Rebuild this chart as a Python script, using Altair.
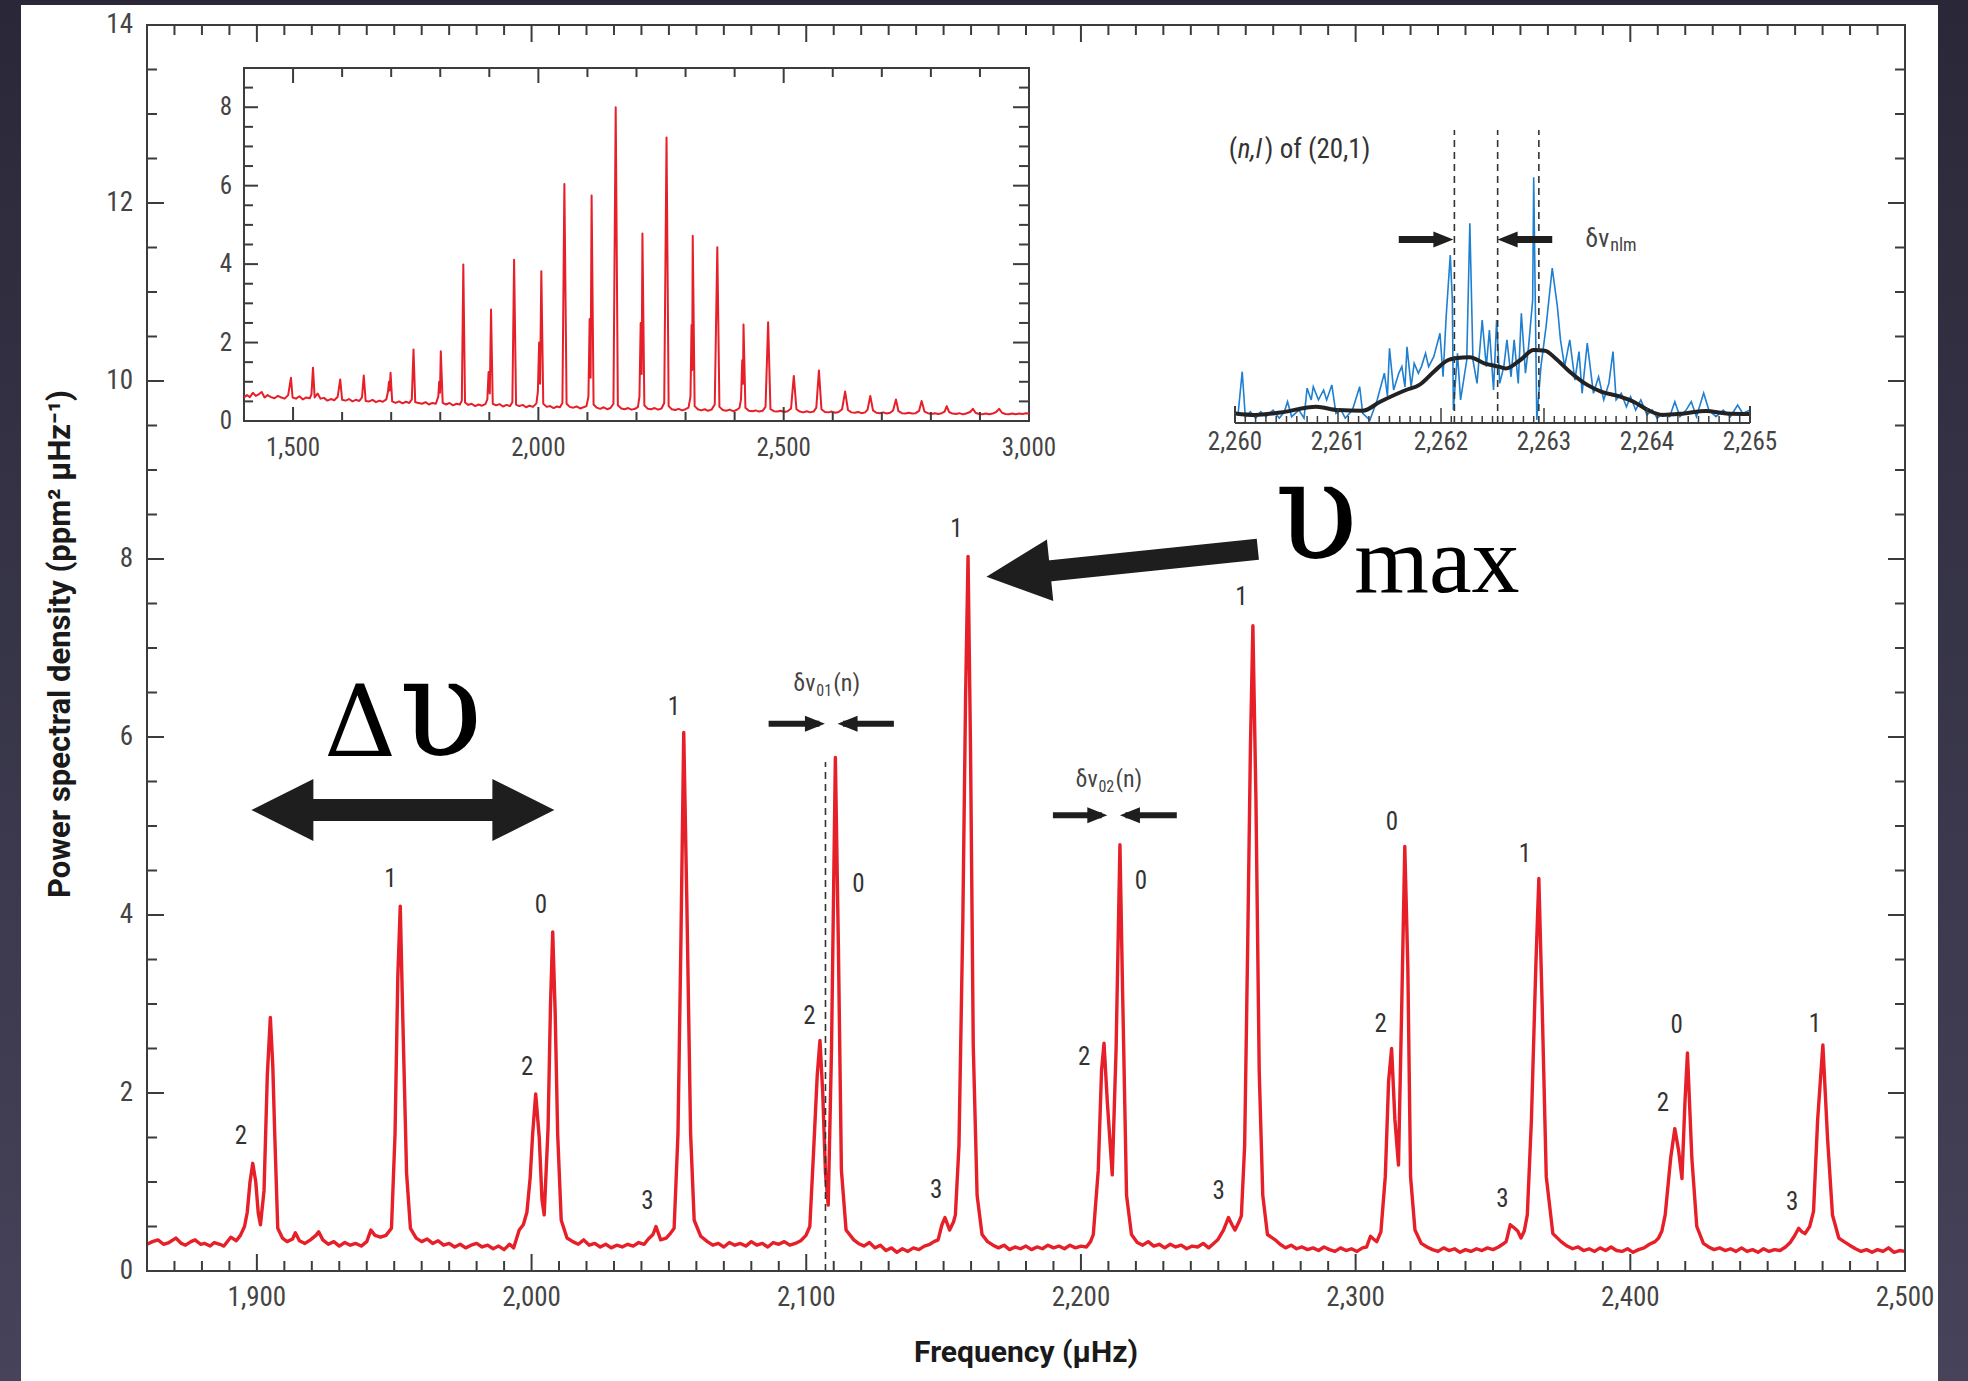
import altair as alt
import pandas as pd

# ---------------------------------------------------------------- layout
W, H = 1758, 1246            # main plot area in pixels
PAD = {"left": 147, "top": 25, "right": 63, "bottom": 110}

RED = "#e61f28"
BLUE = "#1f7fd0"
INK = "#1e1e1e"
TICK = "#3c3c3c"
LABEL = "#444444"
NARROW = "Liberation Sans Narrow, Roboto Condensed, Liberation Sans, sans-serif"
TITLE_FONT = "Roboto, Liberation Sans, sans-serif"
SERIF = "Liberation Serif, DejaVu Serif, serif"
WIDE_SERIF = "DejaVu Serif, Liberation Serif, serif"

# ---------------------------------------------------------------- data
# Main power spectrum: (frequency μHz, PSD ppm² μHz⁻¹)
MAIN_SPECTRUM = [
    (1860.0, 0.30), (1862.0, 0.33), (1864.0, 0.35), (1866.0, 0.30), (1868.0, 0.32),
    (1870.5, 0.37), (1872.5, 0.31), (1874.0, 0.29), (1876.0, 0.33), (1877.5, 0.35),
    (1879.5, 0.30), (1881.0, 0.31), (1883.0, 0.28), (1884.5, 0.32), (1886.5, 0.30),
    (1888.0, 0.28), (1890.5, 0.38), (1892.5, 0.34), (1894.0, 0.40), (1895.5, 0.50),
    (1896.5, 0.66), (1897.5, 1.00), (1898.5, 1.21), (1899.6, 1.00), (1900.5, 0.65),
    (1901.3, 0.52), (1902.6, 0.90), (1903.8, 2.20), (1904.9, 2.85), (1905.8, 2.30),
    (1906.5, 1.54), (1907.6, 0.48), (1909.3, 0.37),
    (1911.0, 0.33), (1913.0, 0.36), (1914.0, 0.43), (1915.5, 0.34), (1917.5, 0.31),
    (1919.5, 0.35), (1921.5, 0.40), (1922.5, 0.44), (1924.0, 0.35), (1926.0, 0.30),
    (1928.0, 0.33), (1930.0, 0.28), (1932.0, 0.32), (1934.0, 0.29), (1936.0, 0.31),
    (1938.0, 0.28), (1940.0, 0.33), (1941.5, 0.46), (1943.0, 0.40), (1945.0, 0.38),
    (1947.0, 0.40),
    (1949.0, 0.48), (1950.3, 1.54), (1951.3, 3.30), (1952.2, 4.10), (1953.1, 2.87),
    (1954.5, 1.10), (1955.9, 0.48), (1958.0, 0.37),
    (1960.0, 0.33), (1962.0, 0.36), (1964.0, 0.31), (1966.0, 0.34), (1968.0, 0.29),
    (1970.0, 0.31), (1972.0, 0.27), (1974.0, 0.30), (1976.0, 0.26), (1978.0, 0.29),
    (1980.0, 0.31), (1982.0, 0.27), (1984.0, 0.29), (1986.0, 0.25), (1988.0, 0.28),
    (1990.0, 0.24), (1992.0, 0.30), (1993.5, 0.26),
    (1995.5, 0.46), (1997.0, 0.52), (1998.3, 0.66), (1999.5, 1.05), (2000.4, 1.54),
    (2001.5, 1.99), (2002.8, 1.50), (2003.8, 0.80), (2004.6, 0.63), (2006.0, 1.60),
    (2006.9, 3.00), (2007.7, 3.81), (2008.6, 2.90), (2009.5, 1.54), (2010.8, 0.57),
    (2012.9, 0.37),
    (2015.0, 0.33), (2017.0, 0.30), (2019.0, 0.35), (2021.0, 0.29), (2023.0, 0.31),
    (2025.0, 0.27), (2027.0, 0.30), (2029.0, 0.26), (2031.0, 0.29), (2033.0, 0.27),
    (2035.0, 0.30), (2037.0, 0.28), (2039.0, 0.32), (2041.0, 0.30), (2042.5, 0.36),
    (2044.2, 0.41), (2045.3, 0.50), (2047.0, 0.35), (2049.0, 0.37), (2050.5, 0.42),
    (2051.9, 0.48), (2053.3, 1.54), (2054.4, 3.76), (2055.4, 6.05), (2056.5, 4.20),
    (2057.9, 1.54), (2059.2, 0.57), (2061.6, 0.39),
    (2064.0, 0.33), (2066.0, 0.29), (2068.0, 0.31), (2070.0, 0.27), (2072.0, 0.32),
    (2074.0, 0.29), (2076.0, 0.31), (2078.0, 0.28), (2080.0, 0.33), (2082.0, 0.29),
    (2084.0, 0.31), (2086.0, 0.27), (2088.0, 0.32), (2090.0, 0.30), (2092.0, 0.33),
    (2094.0, 0.29), (2096.0, 0.31), (2098.0, 0.34), (2099.9, 0.40),
    (2101.3, 0.50), (2102.6, 1.30), (2104.0, 2.20), (2105.0, 2.59), (2106.0, 2.00),
    (2107.0, 1.10), (2108.0, 0.74), (2109.2, 2.50), (2110.6, 5.77), (2111.7, 3.65),
    (2112.8, 1.13), (2114.5, 0.46), (2117.3, 0.35),
    (2119.0, 0.31), (2121.0, 0.28), (2123.0, 0.32), (2125.0, 0.26), (2127.0, 0.29),
    (2129.0, 0.23), (2131.0, 0.26), (2133.0, 0.21), (2135.0, 0.25), (2137.0, 0.22),
    (2139.0, 0.26), (2141.0, 0.24), (2143.0, 0.28), (2145.0, 0.30), (2146.5, 0.33),
    (2148.0, 0.35), (2149.4, 0.52), (2150.5, 0.60), (2152.2, 0.46), (2153.6, 0.55),
    (2154.3, 0.63), (2155.6, 1.41), (2157.0, 3.93), (2158.0, 6.44), (2158.9, 8.03),
    (2159.8, 5.88), (2160.8, 2.53), (2162.2, 0.85), (2164.0, 0.41),
    (2166.0, 0.33), (2168.0, 0.29), (2170.0, 0.26), (2172.0, 0.29), (2174.0, 0.24),
    (2176.0, 0.27), (2178.0, 0.25), (2180.0, 0.28), (2182.0, 0.24), (2184.0, 0.27),
    (2186.0, 0.25), (2188.0, 0.29), (2190.0, 0.26), (2192.0, 0.28), (2194.0, 0.25),
    (2196.0, 0.29), (2198.0, 0.26), (2200.0, 0.28), (2202.0, 0.27), (2203.5, 0.33),
    (2204.5, 0.41), (2206.3, 1.13), (2207.5, 2.25), (2208.4, 2.56), (2209.6, 1.90),
    (2211.4, 1.08), (2212.8, 2.50), (2214.2, 4.79), (2215.2, 3.09), (2216.6, 0.85),
    (2218.4, 0.41), (2220.5, 0.32),
    (2222.5, 0.29), (2224.5, 0.33), (2226.5, 0.28), (2228.5, 0.30), (2230.5, 0.26),
    (2232.5, 0.30), (2234.5, 0.27), (2236.5, 0.29), (2238.5, 0.25), (2240.5, 0.28),
    (2242.5, 0.27), (2244.5, 0.31), (2246.5, 0.26), (2248.0, 0.30),
    (2249.8, 0.35), (2251.9, 0.46), (2253.7, 0.60), (2255.0, 0.52), (2256.1, 0.46),
    (2257.5, 0.55),
    (2258.4, 0.62), (2259.6, 1.41), (2260.7, 3.65), (2261.7, 5.88), (2262.6, 7.25),
    (2263.7, 5.32), (2264.9, 2.25), (2266.2, 0.85), (2267.9, 0.41), (2270.7, 0.35),
    (2272.5, 0.30), (2274.5, 0.26), (2276.5, 0.29), (2278.5, 0.25), (2280.5, 0.27),
    (2282.5, 0.24), (2284.5, 0.26), (2286.5, 0.23), (2288.5, 0.27), (2290.5, 0.24),
    (2292.5, 0.22), (2294.5, 0.26), (2296.5, 0.23), (2298.5, 0.25), (2300.5, 0.22),
    (2302.5, 0.26), (2304.0, 0.27),
    (2305.4, 0.39), (2306.5, 0.36), (2307.7, 0.33),
    (2309.2, 0.44), (2310.8, 1.06), (2312.0, 2.13), (2313.1, 2.50), (2314.3, 1.70),
    (2315.6, 1.19), (2316.8, 3.00), (2317.9, 4.77), (2319.0, 3.42), (2320.0, 1.06),
    (2321.6, 0.46), (2323.9, 0.31),
    (2326.0, 0.27), (2328.0, 0.24), (2330.0, 0.22), (2332.0, 0.26), (2334.0, 0.23),
    (2336.0, 0.25), (2338.0, 0.21), (2340.0, 0.24), (2342.0, 0.22), (2344.0, 0.25),
    (2346.0, 0.23), (2348.0, 0.26), (2350.0, 0.24), (2352.0, 0.27), (2353.5, 0.30),
    (2354.8, 0.33), (2356.3, 0.52), (2357.9, 0.48), (2359.0, 0.45), (2360.2, 0.37),
    (2361.4, 0.45),
    (2362.5, 0.63), (2364.0, 1.70), (2365.6, 3.42), (2366.7, 4.41), (2367.9, 2.99),
    (2369.4, 1.06), (2371.8, 0.42), (2374.8, 0.33),
    (2377.0, 0.28), (2379.0, 0.25), (2381.0, 0.27), (2383.0, 0.23), (2385.0, 0.25),
    (2387.0, 0.22), (2389.0, 0.26), (2391.0, 0.23), (2393.0, 0.27), (2395.0, 0.23),
    (2397.0, 0.22), (2399.0, 0.25), (2401.0, 0.21), (2403.0, 0.24), (2405.0, 0.26),
    (2407.0, 0.30), (2409.0, 0.33),
    (2410.3, 0.37), (2411.5, 0.45), (2412.7, 0.63), (2414.7, 1.27), (2416.2, 1.60),
    (2417.6, 1.35), (2418.8, 1.04), (2419.9, 1.90), (2420.8, 2.45), (2422.4, 1.27),
    (2424.2, 0.50), (2426.6, 0.31),
    (2428.5, 0.27), (2430.5, 0.24), (2432.5, 0.26), (2434.5, 0.23), (2436.5, 0.25),
    (2438.5, 0.22), (2440.5, 0.26), (2442.5, 0.22), (2444.5, 0.24), (2446.5, 0.21),
    (2448.5, 0.25), (2450.5, 0.22), (2452.5, 0.24), (2454.5, 0.23), (2456.5, 0.27),
    (2458.2, 0.32),
    (2459.7, 0.39), (2461.3, 0.48), (2462.5, 0.44), (2463.6, 0.42), (2465.3, 0.50),
    (2466.7, 0.67), (2468.2, 1.70), (2470.1, 2.54), (2471.8, 1.49), (2473.6, 0.63),
    (2475.9, 0.37), (2477.8, 0.33), (2479.8, 0.29),
    (2482.0, 0.25), (2484.0, 0.22), (2486.0, 0.24), (2488.0, 0.21), (2490.0, 0.24),
    (2492.0, 0.22), (2494.0, 0.26), (2496.0, 0.21), (2498.0, 0.23), (2500.0, 0.22),
]

# Full-range spectrum shown in the upper-left inset
INSET_SPECTRUM = [
    (1400, 0.60), (1406, 0.66), (1412, 0.61), (1418, 0.72), (1424, 0.64), (1430, 0.68),
    (1436, 0.74), (1442, 0.60), (1448, 0.66), (1455, 0.61), (1462, 0.58), (1469, 0.64),
    (1476, 0.60), (1483, 0.57), (1490, 0.66), (1495.7, 1.10), (1499, 0.60), (1506, 0.57),
    (1513, 0.63), (1520, 0.55), (1527, 0.60), (1534, 0.58), (1537.5, 0.68), (1540.6, 1.36),
    (1544, 0.60), (1550, 0.70), (1556, 0.57), (1563, 0.59), (1570, 0.52), (1577, 0.56),
    (1584, 0.53), (1591, 0.62), (1596.1, 1.06), (1600, 0.54), (1607, 0.52), (1614, 0.56),
    (1621, 0.50), (1628, 0.54), (1635, 0.51), (1640.5, 0.60), (1644.1, 1.16), (1648, 0.51),
    (1655, 0.50), (1662, 0.54), (1669, 0.48), (1676, 0.52), (1683, 0.49), (1690, 0.55),
    (1693.5, 0.75), (1695.5, 1.00), (1697, 0.78), (1698.7, 1.23), (1702, 0.50), (1709, 0.46),
    (1716, 0.50), (1723, 0.45), (1730, 0.49), (1737, 0.46), (1742, 0.55), (1745.5, 1.82),
    (1749, 0.48), (1756, 0.46), (1763, 0.44), (1770, 0.48), (1777, 0.42), (1784, 0.46),
    (1791, 0.44), (1796, 0.62), (1797.8, 1.00), (1799.5, 0.72), (1801.1, 1.78), (1805, 0.46),
    (1812, 0.42), (1819, 0.46), (1826, 0.40), (1833, 0.44), (1840, 0.42), (1844, 0.52),
    (1847, 3.99), (1850.5, 0.47), (1857, 0.41), (1864, 0.44), (1871, 0.38), (1878, 0.42),
    (1885, 0.39), (1892, 0.43), (1896, 0.55), (1898.5, 1.25), (1901, 0.70), (1903.5, 2.84),
    (1907, 0.44), (1914, 0.40), (1921, 0.43), (1928, 0.37), (1935, 0.41), (1942, 0.38),
    (1947, 0.48), (1950.5, 4.11), (1954.5, 0.42), (1961, 0.38), (1968, 0.41), (1975, 0.35),
    (1982, 0.39), (1989, 0.36), (1996, 0.45), (1999, 0.75), (2001.5, 2.00), (2003.5, 0.95),
    (2006, 3.82), (2010, 0.44), (2017, 0.36), (2024, 0.38), (2031, 0.33), (2038, 0.37),
    (2044, 0.35), (2049, 0.46), (2053, 6.04), (2057.5, 0.44), (2064, 0.36), (2071, 0.34),
    (2078, 0.37), (2085, 0.32), (2092, 0.35), (2098, 0.38), (2102, 0.62), (2104.5, 2.60),
    (2106.5, 1.10), (2108.5, 5.75), (2112.5, 0.42), (2119, 0.34), (2126, 0.31), (2133, 0.35),
    (2140, 0.30), (2147, 0.33), (2153, 0.44), (2157.6, 8.00), (2162, 0.40), (2169, 0.32),
    (2176, 0.30), (2183, 0.33), (2190, 0.29), (2197, 0.31), (2203, 0.36), (2206, 0.62),
    (2208.5, 2.50), (2210.5, 1.20), (2212.1, 4.78), (2216, 0.40), (2223, 0.31), (2230, 0.30),
    (2237, 0.33), (2244, 0.29), (2251, 0.32), (2256.5, 0.46), (2261.2, 7.23), (2265.5, 0.38),
    (2272, 0.30), (2279, 0.28), (2286, 0.31), (2293, 0.27), (2300, 0.30), (2306, 0.34),
    (2310, 0.62), (2312.2, 2.45), (2313.5, 1.30), (2314.6, 4.72), (2318.5, 0.38), (2325, 0.30),
    (2332, 0.27), (2339, 0.30), (2346, 0.26), (2353, 0.29), (2359.5, 0.42), (2364.7, 4.43),
    (2369, 0.36), (2376, 0.28), (2383, 0.26), (2390, 0.29), (2397, 0.25), (2404, 0.28),
    (2410, 0.34), (2413, 0.55), (2415.5, 1.55), (2417, 0.95), (2418.1, 2.46), (2422, 0.34),
    (2429, 0.26), (2436, 0.25), (2443, 0.27), (2450, 0.24), (2457, 0.26), (2463, 0.36),
    (2468.3, 2.52), (2473, 0.30), (2480, 0.25), (2487, 0.24), (2494, 0.26), (2501, 0.23),
    (2508, 0.25), (2515, 0.32), (2520.6, 1.15), (2526, 0.30), (2533, 0.24), (2540, 0.22),
    (2547, 0.25), (2554, 0.22), (2561, 0.24), (2566.5, 0.34), (2571.8, 1.29), (2577, 0.30),
    (2584, 0.23), (2591, 0.22), (2598, 0.24), (2605, 0.21), (2612, 0.23), (2619, 0.30),
    (2625.2, 0.75), (2631, 0.28), (2638, 0.22), (2645, 0.21), (2652, 0.23), (2659, 0.20),
    (2666, 0.22), (2671, 0.29), (2676.5, 0.64), (2682, 0.27), (2689, 0.21), (2696, 0.20),
    (2703, 0.22), (2710, 0.19), (2717, 0.21), (2723, 0.27), (2728.8, 0.55), (2734, 0.25),
    (2741, 0.20), (2748, 0.19), (2755, 0.21), (2762, 0.19), (2769, 0.20), (2776, 0.26),
    (2781.1, 0.51), (2787, 0.24), (2794, 0.20), (2801, 0.18), (2808, 0.20), (2815, 0.18),
    (2822, 0.20), (2828, 0.24), (2832.3, 0.38), (2837, 0.23), (2844, 0.19), (2851, 0.18),
    (2858, 0.20), (2865, 0.17), (2872, 0.19), (2880, 0.23), (2885.7, 0.31), (2891, 0.21),
    (2898, 0.18), (2905, 0.17), (2912, 0.19), (2919, 0.17), (2926, 0.19), (2933, 0.23),
    (2939.1, 0.31), (2945, 0.21), (2952, 0.18), (2959, 0.17), (2966, 0.19), (2973, 0.17),
    (2980, 0.19), (2987, 0.18), (2994, 0.20), (3000, 0.19),
]

# Rotationally split (n,l) = (20,1) mode: raw power and smoothed power (relative units)
SPLIT_RAW = [
    (2260.00, 0.38), (2260.03, 0.30), (2260.07, 1.71), (2260.10, 0.21), (2260.15, 0.38),
    (2260.20, 0.16), (2260.25, 0.38), (2260.30, 0.21), (2260.37, 0.43), (2260.43, 0.16),
    (2260.48, 0.38), (2260.51, 0.71), (2260.55, 0.21), (2260.62, 0.43), (2260.67, 0.16),
    (2260.70, 1.16), (2260.74, 0.77), (2260.76, 1.21), (2260.81, 0.77), (2260.86, 1.10),
    (2260.89, 0.77), (2260.94, 1.27), (2260.98, 0.32), (2261.03, 0.43), (2261.07, 0.16),
    (2261.14, 0.43), (2261.21, 1.21), (2261.24, 0.32), (2261.31, 0.10), (2261.38, 0.77),
    (2261.45, 1.66), (2261.48, 0.90), (2261.50, 2.49), (2261.54, 1.10), (2261.59, 1.66),
    (2261.62, 1.88), (2261.65, 1.20), (2261.67, 2.54), (2261.71, 1.21), (2261.74, 1.99),
    (2261.78, 1.66), (2261.81, 1.88), (2261.85, 2.32), (2261.88, 1.88), (2261.93, 2.21),
    (2261.99, 2.99), (2262.02, 1.54), (2262.05, 3.54), (2262.09, 5.60), (2262.11, 4.10),
    (2262.12, 0.43), (2262.16, 2.32), (2262.19, 0.77), (2262.25, 2.10), (2262.28, 6.66),
    (2262.31, 2.10), (2262.35, 1.32), (2262.40, 3.43), (2262.44, 1.88), (2262.47, 3.10),
    (2262.51, 1.10), (2262.54, 3.43), (2262.57, 1.32), (2262.61, 1.88), (2262.64, 2.77),
    (2262.68, 1.54), (2262.71, 2.77), (2262.75, 1.32), (2262.78, 3.66), (2262.82, 1.66),
    (2262.85, 2.54), (2262.89, 4.10), (2262.90, 8.19), (2262.93, 0.10), (2262.97, 1.88),
    (2263.02, 3.21), (2263.08, 5.16), (2263.13, 3.88), (2263.16, 2.77), (2263.20, 1.88),
    (2263.25, 2.77), (2263.30, 1.43), (2263.34, 2.38), (2263.37, 0.99), (2263.42, 2.66),
    (2263.48, 0.99), (2263.53, 1.54), (2263.58, 0.77), (2263.63, 1.32), (2263.67, 2.38),
    (2263.70, 0.77), (2263.75, 0.99), (2263.80, 0.54), (2263.84, 0.88), (2263.89, 0.43),
    (2263.94, 0.77), (2264.00, 0.27), (2264.05, 0.43), (2264.10, 0.16), (2264.15, 0.32),
    (2264.22, 0.21), (2264.27, 0.71), (2264.32, 0.21), (2264.38, 0.43), (2264.43, 0.71),
    (2264.48, 0.21), (2264.55, 1.00), (2264.60, 0.43), (2264.67, 0.21), (2264.74, 0.43),
    (2264.81, 0.21), (2264.88, 0.60), (2264.93, 0.32), (2265.00, 0.43),
]
SPLIT_SMOOTH = [
    (2260.00, 0.32), (2260.20, 0.27), (2260.44, 0.35), (2260.79, 0.54), (2261.00, 0.43),
    (2261.24, 0.41), (2261.41, 0.71), (2261.66, 1.10), (2261.79, 1.27), (2261.93, 1.71),
    (2262.07, 2.10), (2262.14, 2.16), (2262.28, 2.19), (2262.42, 1.99), (2262.56, 1.88),
    (2262.63, 1.82), (2262.77, 2.10), (2262.90, 2.43), (2263.01, 2.41), (2263.11, 2.16),
    (2263.25, 1.71), (2263.42, 1.27), (2263.56, 1.04), (2263.74, 0.88), (2263.87, 0.71),
    (2264.01, 0.43), (2264.15, 0.27), (2264.36, 0.32), (2264.57, 0.40), (2264.77, 0.32),
    (2265.00, 0.30),
]
SPLIT_COMPONENTS = [2262.13, 2262.55, 2262.95]

# Angular degree labels of the main spectrum: (label, frequency, PSD)
MODE_LABELS = [
    ("2", 1894.2, 1.52), ("1", 1948.6, 4.40), ("2", 1998.4, 2.29), ("0", 2003.4, 4.11),
    ("3", 2042.2, 0.79), ("1", 2051.8, 6.34), ("2", 2101.2, 2.87), ("0", 2119.0, 4.35),
    ("3", 2147.3, 0.91), ("1", 2154.7, 8.34), ("2", 2201.2, 2.41), ("0", 2221.8, 4.38),
    ("3", 2250.1, 0.90), ("1", 2258.4, 7.57), ("2", 2309.1, 2.77), ("0", 2313.2, 5.04),
    ("3", 2353.4, 0.81), ("1", 2361.6, 4.68), ("2", 2411.9, 1.89), ("0", 2416.9, 2.76),
    ("3", 2458.9, 0.77), ("1", 2467.2, 2.77),
]
SMALL_SEPARATION_01 = 2107.0   # midpoint of neighbouring l=1 modes

# Tick positions and labels
MAIN_X_MAJOR = [1900, 2000, 2100, 2200, 2300, 2400, 2500]
MAIN_X_MINOR = [v for v in range(1870, 2500, 10) if v % 100]
MAIN_X_LABELS = [(v, f"{v:,}") for v in MAIN_X_MAJOR]
MAIN_Y_MAJOR = [0, 2, 4, 6, 8, 10, 12, 14]
MAIN_Y_MINOR = [i * 0.5 for i in range(1, 28) if i % 4]
INSET_X_MAJOR = [1500, 2000, 2500]
INSET_X_MINOR = [v for v in range(1500, 3000, 100) if v % 500]
INSET_X_LABELS = [(1500, "1,500"), (2000, "2,000"), (2500, "2,500"), (3000, "3,000")]
INSET_Y_MAJOR = [0, 2, 4, 6, 8]
INSET_Y_MINOR = [i * 0.5 for i in range(1, 18) if i % 4]
SPLIT_X_MAJOR = [2261, 2262, 2263, 2264]
SPLIT_X_MINOR = [round(2260 + i * 0.1, 1) for i in range(1, 50) if i % 10]
SPLIT_X_CAPS = [2260, 2265]
SPLIT_X_LABELS = [(2260, "2,260"), (2261, "2,261"), (2262, "2,262"),
                  (2263, "2,263"), (2264, "2,264"), (2265, "2,265")]

X_TITLE = "Frequency (μHz)"
Y_TITLE = "Power spectral density (ppm² μHz⁻¹)"

# ---------------------------------------------------------------- scales
main_x = alt.Scale(domain=[1860, 2500], nice=False, zero=False)
main_y = alt.Scale(domain=[0, 14], nice=False, zero=False)
in1_x = alt.Scale(domain=[1400, 3000], range=[97, 882], nice=False, zero=False)
in1_y = alt.Scale(domain=[0, 9], range=[396, 43], nice=False, zero=False)
in2_x = alt.Scale(domain=[2260, 2265], range=[1088, 1603], nice=False, zero=False)
in2_y = alt.Scale(domain=[0, 10], range=[398, 98], nice=False, zero=False)


def spectrum_df(pairs):
    return pd.DataFrame(pairs, columns=["f", "p"])


def xticks(values, xs, ys, at, length, color=TICK, width=2):
    """Vertical tick marks along a horizontal edge (negative length points up)."""
    return alt.Chart(pd.DataFrame({"v": values})).mark_rule(
        color=color, strokeWidth=width, y2Offset=length
    ).encode(
        x=alt.X("v:Q", scale=xs, axis=None),
        y=alt.YDatum(at, scale=ys, axis=None),
        y2=alt.Y2Datum(at),
    )


def yticks(values, xs, ys, at, length, color=TICK, width=2):
    """Horizontal tick marks along a vertical edge (positive length points right)."""
    return alt.Chart(pd.DataFrame({"v": values})).mark_rule(
        color=color, strokeWidth=width, x2Offset=length
    ).encode(
        y=alt.Y("v:Q", scale=ys, axis=None),
        x=alt.XDatum(at, scale=xs, axis=None),
        x2=alt.X2Datum(at),
    )


def xlabels(pairs, xs, ys, at, dy, size=25):
    return alt.Chart(pd.DataFrame(pairs, columns=["v", "t"])).mark_text(
        font=NARROW, fontSize=size, color=LABEL, dy=dy
    ).encode(
        x=alt.X("v:Q", scale=xs, axis=None), y=alt.YDatum(at, scale=ys, axis=None),
        text="t:N",
    )


def ylabels(values, xs, ys, at, dx, size=25):
    return alt.Chart(pd.DataFrame({"v": values})).mark_text(
        font=NARROW, fontSize=size, color=LABEL, align="right", dx=dx
    ).encode(
        y=alt.Y("v:Q", scale=ys, axis=None), x=alt.XDatum(at, scale=xs, axis=None),
        text=alt.Text("v:Q", format="d"),
    )


def texts(rows, xs, ys, **mark):
    df = pd.DataFrame(rows, columns=["t", "x", "y"])
    return alt.Chart(df).mark_text(**mark).encode(
        x=alt.X("x:Q", scale=xs, axis=None),
        y=alt.Y("y:Q", scale=ys, axis=None),
        text=alt.Text("t:N"),
    )


def subscripted(base, sub, tail, x, y, xs, ys, size, sub_dx, tail_dx, color):
    """Symbol with a lowered, smaller subscript and an optional trailing part."""
    layers = [
        texts([(base, x, y)], xs, ys, font=NARROW, fontSize=size, color=color, align="left"),
        texts([(sub, x, y)], xs, ys, font=NARROW, fontSize=round(size * 0.68),
              color=color, align="left", dx=sub_dx, dy=size * 0.3),
    ]
    if tail:
        layers.append(texts([(tail, x, y)], xs, ys, font=NARROW, fontSize=size,
                            color=color, align="left", dx=tail_dx))
    return layers


def arrow(tail, shaft_end, tip, angle, xs, ys, shaft_w, head_len, head_half):
    shaft = alt.Chart(pd.DataFrame([{
        "x": tail[0], "y": tail[1], "x2": shaft_end[0], "y2": shaft_end[1]}])
    ).mark_rule(color=INK, strokeWidth=shaft_w, strokeCap="butt").encode(
        x=alt.X("x:Q", scale=xs, axis=None), y=alt.Y("y:Q", scale=ys, axis=None),
        x2="x2:Q", y2="y2:Q",
    )
    head_path = f"M0,0L{-head_len},{-head_half}L{-head_len},{head_half}Z"
    head = alt.Chart(pd.DataFrame([{"x": tip[0], "y": tip[1]}])).mark_point(
        shape=head_path, size=4, filled=True, color=INK, opacity=1, angle=angle
    ).encode(
        x=alt.X("x:Q", scale=xs, axis=None), y=alt.Y("y:Q", scale=ys, axis=None),
    )
    return [shaft, head]


one_row = pd.DataFrame({"k": [0]})

# ---------------------------------------------------------------- backdrop
backdrop = alt.Chart(one_row).mark_rect(
    color=alt.Gradient(
        gradient="linear",
        stops=[alt.GradientStop(color="#2a2838", offset=0),
               alt.GradientStop(color="#46435a", offset=1)],
        x1=0, x2=0, y1=0, y2=1,
    )
).encode(x=alt.value(-147), x2=alt.value(1821), y=alt.value(-25), y2=alt.value(1356))

panel = alt.Chart(one_row).mark_rect(color="white").encode(
    x=alt.value(-126), x2=alt.value(1791), y=alt.value(-20), y2=alt.value(1356)
)

# ---------------------------------------------------------------- main chart
main_line = alt.Chart(spectrum_df(MAIN_SPECTRUM)).mark_line(
    color=RED, strokeWidth=3.4, strokeJoin="round"
).encode(
    x=alt.X("f:Q", scale=main_x, axis=None),
    y=alt.Y("p:Q", scale=main_y, axis=None),
)

main_dashed = alt.Chart(pd.DataFrame([{"x": SMALL_SEPARATION_01, "y": 0, "y2": 5.72}])).mark_rule(
    color="#333333", strokeWidth=1.6, strokeDash=[7, 5]
).encode(
    x=alt.X("x:Q", scale=main_x, axis=None),
    y=alt.Y("y:Q", scale=main_y, axis=None), y2="y2:Q",
)

mode_labels = texts(MODE_LABELS, main_x, main_y, font=NARROW, fontSize=25, color="#333333")

small_sep_labels = (
    subscripted("δν", "01", "(n)", 2095.3, 6.60, main_x, main_y, 24, 23, 40, "#444444")
    + subscripted("δν", "02", "(n)", 2198.0, 5.52, main_x, main_y, 24, 23, 40, "#444444")
)

big_text = [
    texts([("Δ", 1924.4, 5.79)], main_x, main_y, font=WIDE_SERIF, fontSize=100,
          color="black", baseline="alphabetic", align="left"),
    texts([("υ", 1951.7, 5.79)], main_x, main_y, font=WIDE_SERIF, fontSize=138,
          color="black", baseline="alphabetic", align="left"),
    texts([("υ", 2270.5, 8.00)], main_x, main_y, font=WIDE_SERIF, fontSize=138,
          color="black", baseline="alphabetic", align="left"),
    texts([("max", 2299.5, 7.63)], main_x, main_y, font=SERIF, fontSize=96,
          color="black", baseline="alphabetic", align="left"),
]

annotation_arrows = (
    arrow((1919.1, 5.18), (1919.1, 5.18), (1898.0, 5.18), 180, main_x, main_y, 22, 62, 31)
    + arrow((1919.1, 5.18), (1987.2, 5.18), (2008.3, 5.18), 0, main_x, main_y, 22, 62, 31)
    + arrow((2264.4, 8.11), (2186.5, 7.86), (2165.6, 7.80), 174.1, main_x, main_y, 21, 64, 31)
    + arrow((2086.3, 6.15), (2104.8, 6.15), (2106.8, 6.15), 0, main_x, main_y, 6, 20, 8)
    + arrow((2131.9, 6.15), (2113.4, 6.15), (2111.4, 6.15), 180, main_x, main_y, 6, 20, 8)
    + arrow((2189.8, 5.12), (2207.6, 5.12), (2209.6, 5.12), 0, main_x, main_y, 6, 20, 8)
    + arrow((2234.9, 5.12), (2216.2, 5.12), (2214.2, 5.12), 180, main_x, main_y, 6, 20, 8)
)

main_frame = alt.Chart(one_row).mark_rect(filled=False, color=TICK, strokeWidth=2).encode(
    x=alt.XDatum(1860, scale=main_x, axis=None), x2=alt.X2Datum(2500),
    y=alt.YDatum(0, scale=main_y, axis=None), y2=alt.Y2Datum(14),
)

main_ticks = [
    xticks(MAIN_X_MAJOR, main_x, main_y, 0, -17), xticks(MAIN_X_MINOR, main_x, main_y, 0, -10),
    xticks(MAIN_X_MAJOR, main_x, main_y, 14, 17), xticks(MAIN_X_MINOR, main_x, main_y, 14, 10),
    yticks(MAIN_Y_MAJOR, main_x, main_y, 1860, 17), yticks(MAIN_Y_MINOR, main_x, main_y, 1860, 10),
    yticks(MAIN_Y_MAJOR, main_x, main_y, 2500, -17), yticks(MAIN_Y_MINOR, main_x, main_y, 2500, -10),
]

main_axis_text = [
    xlabels(MAIN_X_LABELS, main_x, main_y, 0, 27, size=27),
    ylabels(MAIN_Y_MAJOR, main_x, main_y, 1860, -14, size=27),
    texts([(X_TITLE, 2180.0, 0.0)], main_x, main_y, font=TITLE_FONT, fontSize=30,
          fontWeight="bold", color="#1a1a1a", dy=82),
    alt.Chart(pd.DataFrame({"t": [Y_TITLE]})).mark_text(
        font=TITLE_FONT, fontSize=31, fontWeight="bold", color="#1a1a1a", angle=270
    ).encode(x=alt.value(-86), y=alt.value(H / 2 - 4), text="t:N"),
]

main_group = alt.layer(
    backdrop, panel, main_line, main_dashed, mode_labels, *small_sep_labels,
    *big_text, *annotation_arrows, *main_ticks, main_frame, *main_axis_text,
)

# ---------------------------------------------------------------- inset: full spectrum
in1_box = alt.Chart(one_row).mark_rect(fill="white", stroke=TICK, strokeWidth=2).encode(
    x=alt.XDatum(1400, scale=in1_x, axis=None), x2=alt.X2Datum(3000),
    y=alt.YDatum(0, scale=in1_y, axis=None), y2=alt.Y2Datum(9),
)
in1_line = alt.Chart(spectrum_df(INSET_SPECTRUM)).mark_line(
    color=RED, strokeWidth=2, strokeJoin="round"
).encode(
    x=alt.X("f:Q", scale=in1_x, axis=None), y=alt.Y("p:Q", scale=in1_y, axis=None),
)
in1_ticks = [
    xticks(INSET_X_MAJOR, in1_x, in1_y, 0, -14), xticks(INSET_X_MINOR, in1_x, in1_y, 0, -9),
    xticks(INSET_X_MAJOR, in1_x, in1_y, 9, 15), xticks(INSET_X_MINOR, in1_x, in1_y, 9, 9),
    yticks(INSET_Y_MAJOR, in1_x, in1_y, 1400, 14), yticks(INSET_Y_MINOR, in1_x, in1_y, 1400, 9),
    yticks(INSET_Y_MAJOR, in1_x, in1_y, 3000, -16), yticks(INSET_Y_MINOR, in1_x, in1_y, 3000, -10),
]
inset1_group = alt.layer(
    in1_box, in1_line, *in1_ticks,
    xlabels(INSET_X_LABELS, in1_x, in1_y, 0, 27),
    ylabels(INSET_Y_MAJOR, in1_x, in1_y, 1400, -12),
)

# ---------------------------------------------------------------- inset: split (20,1) mode
in2_raw = alt.Chart(spectrum_df(SPLIT_RAW)).mark_line(color=BLUE, strokeWidth=1.6).encode(
    x=alt.X("f:Q", scale=in2_x, axis=None), y=alt.Y("p:Q", scale=in2_y, axis=None),
)
in2_smooth = alt.Chart(spectrum_df(SPLIT_SMOOTH)).mark_line(
    color="#222222", strokeWidth=4, interpolate="monotone"
).encode(
    x=alt.X("f:Q", scale=in2_x, axis=None), y=alt.Y("p:Q", scale=in2_y, axis=None),
)
in2_dashed = alt.Chart(pd.DataFrame({"x": SPLIT_COMPONENTS, "y": 0, "y2": 9.77})).mark_rule(
    color="#333333", strokeWidth=1.6, strokeDash=[7, 5]
).encode(
    x=alt.X("x:Q", scale=in2_x, axis=None),
    y=alt.Y("y:Q", scale=in2_y, axis=None), y2="y2:Q",
)
in2_base = alt.Chart(one_row).mark_rule(color=TICK, strokeWidth=2).encode(
    x=alt.XDatum(2260, scale=in2_x, axis=None), x2=alt.X2Datum(2265),
    y=alt.YDatum(0, scale=in2_y, axis=None),
)
in2_ticks = [
    xticks(SPLIT_X_MINOR, in2_x, in2_y, 0, -7, width=1.5),
    xticks(SPLIT_X_MAJOR, in2_x, in2_y, 0, -15, width=1.5),
    xticks(SPLIT_X_CAPS, in2_x, in2_y, 0, -17, width=2),
]
in2_title = [
    texts([("(", 2259.94, 9.10)], in2_x, in2_y, font=NARROW, fontSize=27,
          color="#333333", align="left"),
    texts([("n,l", 2259.94, 9.10)], in2_x, in2_y, font=NARROW, fontSize=27,
          color="#333333", align="left", fontStyle="italic", dx=9),
    texts([(") of (20,1)", 2259.94, 9.10)], in2_x, in2_y, font=NARROW, fontSize=27,
          color="#333333", align="left", dx=36),
]
in2_split_label = subscripted("δν", "nlm", None, 2263.40, 6.15, in2_x, in2_y,
                              26, 25, 0, "#444444")
in2_arrows = (
    arrow((2261.59, 6.12), (2261.97, 6.12), (2262.12, 6.12), 0, in2_x, in2_y, 7, 20, 8)
    + arrow((2263.08, 6.12), (2262.70, 6.12), (2262.55, 6.12), 180, in2_x, in2_y, 7, 20, 8)
)
inset2_group = alt.layer(
    in2_raw, in2_smooth, in2_dashed, in2_base, *in2_ticks,
    xlabels(SPLIT_X_LABELS, in2_x, in2_y, 0, 19),
    *in2_title, *in2_split_label, *in2_arrows,
)

# ---------------------------------------------------------------- assemble
chart = alt.layer(main_group, inset1_group, inset2_group).resolve_scale(
    x="independent", y="independent"
).properties(
    width=W, height=H, padding=PAD,
    autosize=alt.AutoSizeParams(type="none"),
    background="#34324a",
).configure_view(strokeWidth=0)

chart.save("out.html", embed_options={"renderer": "svg", "actions": False})
